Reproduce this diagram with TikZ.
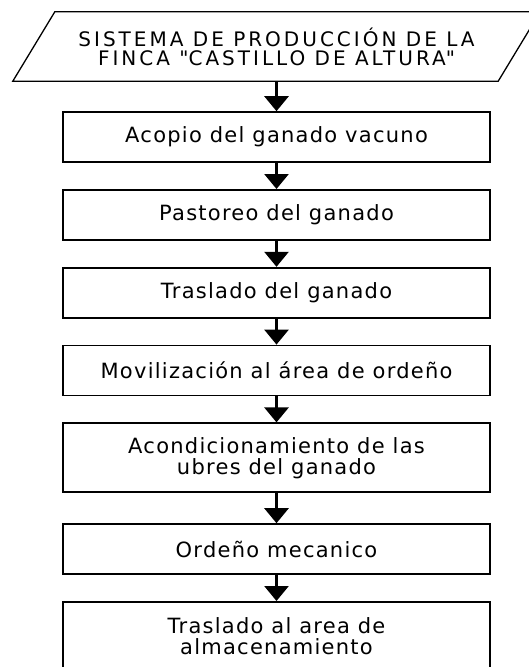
\documentclass[tikz,border=0pt]{standalone}
\usepackage{fontspec}
\setmainfont{DejaVu Sans}[LetterSpace=6]
\newfontfamily\titulofont{DejaVu Sans}[LetterSpace=15]
\usepackage{tikz}
\usetikzlibrary{arrows.meta,positioning}
\tikzset{
  datos/.style={rectangle,minimum width=485pt,minimum height=69pt,align=center,
                font=\titulofont\fontsize{20}{19}\selectfont,inner sep=0pt},
  marco/.style={draw=black,line width=1.3pt},
  paso/.style={rectangle,draw=black,line width=1.8pt,minimum width=427pt,
               minimum height=50pt,align=center,font=\fontsize{21}{21}\selectfont,
               inner sep=0pt},
  paso2/.style={paso,minimum height=69pt},
  flecha/.style={-{Triangle[width=24pt,length=15pt]},line width=2.8pt,black},
}
\begin{document}
\begin{tikzpicture}[node distance=26pt]
  \useasboundingbox (0pt,0pt) rectangle (528pt,-667pt);
  \node[datos] (titulo) at (276.5pt,-46.5pt)
    {SISTEMA DE PRODUCCIÓN DE LA\\FINCA \textquotedbl CASTILLO DE ALTURA\textquotedbl};
  \draw[marco] ([xshift=-21pt]titulo.south west) -- ([xshift=21pt]titulo.north west)
    -- ([xshift=21pt]titulo.north east) -- ([xshift=-21pt]titulo.south east) -- cycle;
  \node[paso,below=30pt of titulo] (acopio) {Acopio del ganado vacuno};
  \node[paso,below=of acopio] (pastoreo) {Pastoreo del ganado};
  \node[paso,below=of pastoreo] (traslado) {Traslado del ganado};
  \node[paso,below=of traslado] (moviliza) {Movilización al área de ordeño};
  \node[paso2,below=of moviliza] (acond) {Acondicionamiento de las\\ubres del ganado};
  \node[paso,below=30pt of acond] (ordeno) {Ordeño mecanico};
  \node[paso2,below=of ordeno] (almacen) {Traslado al area de\\almacenamiento};

  \draw[flecha] (titulo) -- (acopio);
  \draw[flecha] (acopio) -- (pastoreo);
  \draw[flecha] (pastoreo) -- (traslado);
  \draw[flecha] (traslado) -- (moviliza);
  \draw[flecha] (moviliza) -- (acond);
  \draw[flecha] (acond) -- (ordeno);
  \draw[flecha] (ordeno) -- (almacen);

\end{tikzpicture}
\end{document}
